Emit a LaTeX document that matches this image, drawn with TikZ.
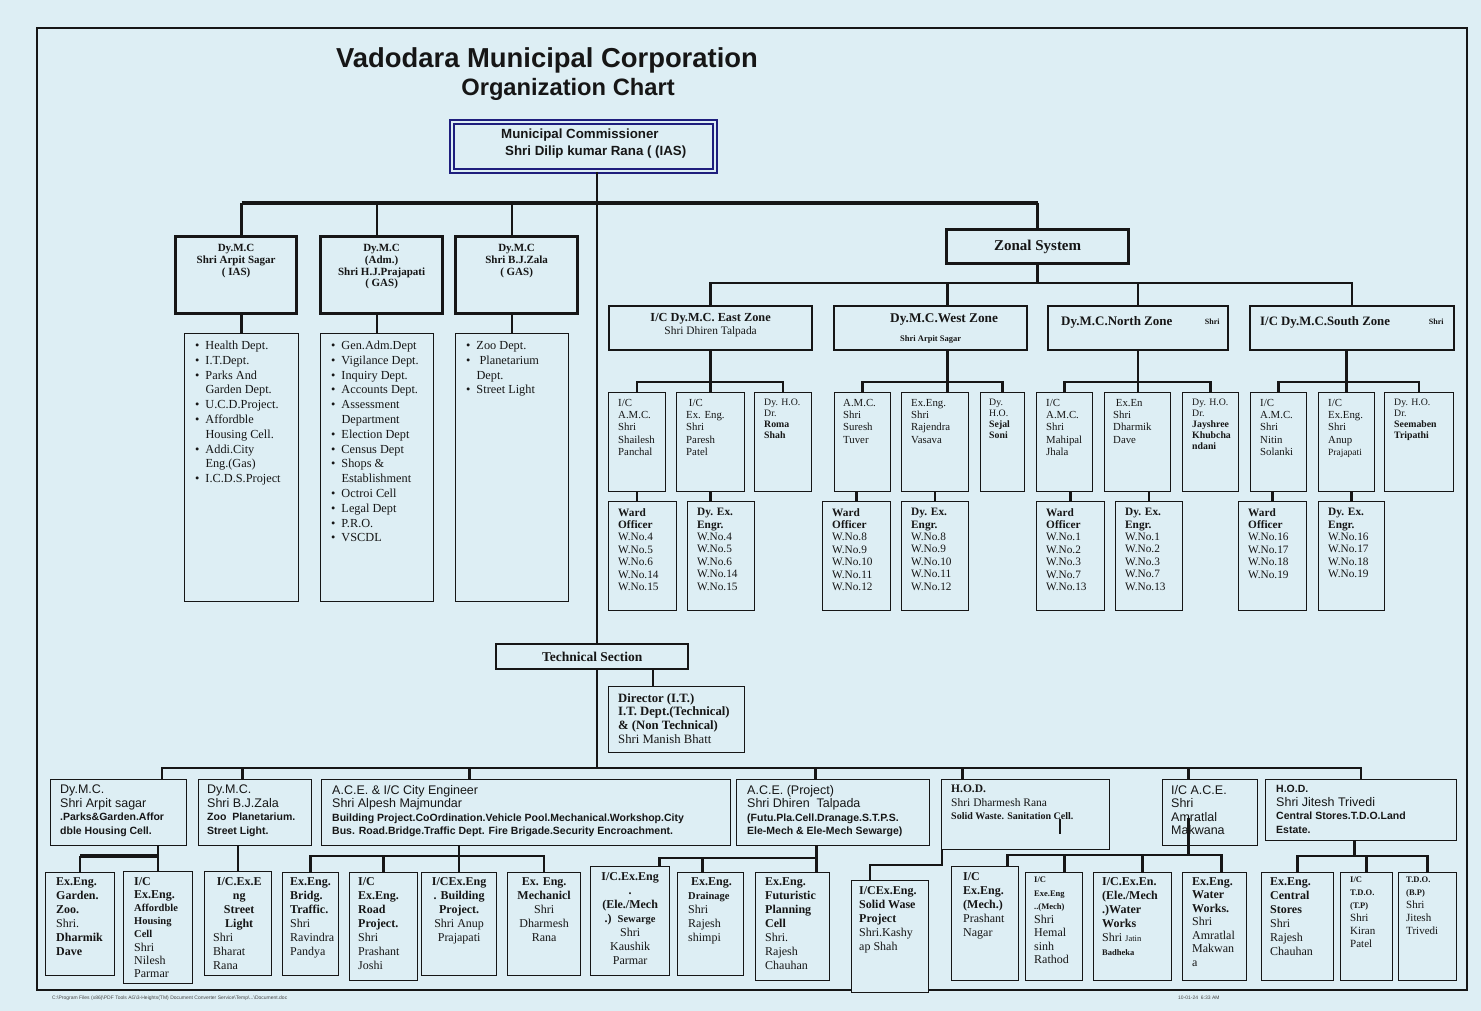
\documentclass[tikz,border=0pt]{standalone}
\usepackage{fontspec}
\setmainfont{Liberation Serif}
\newfontfamily\arialfont{Liberation Sans}
\usetikzlibrary{positioning}

\definecolor{pagebg}{RGB}{221,238,244}
\definecolor{ink}{RGB}{22,22,22}
\definecolor{navy}{RGB}{30,30,125}

\newcommand\ctrline[1]{\mbox{}\hfill#1\hfill\mbox{}}
\newcommand\smallbf{\bfseries\fontsize{10.5}{13}\selectfont}
\newcommand\tinybf{\bfseries\fontsize{8.5}{13}\selectfont}
\newcommand\detail{\bfseries\fontsize{10.5}{13.5}\selectfont}

\tikzset{
  bx/.style={draw=ink, fill=pagebg, anchor=north west, inner sep=0pt, line width=1.3pt},
  heavy/.style={bx, line width=3.2pt},
  zonebox/.style={bx, line width=2.2pt},
  listbox/.style={bx, line width=1pt},
  lbl/.style={anchor=north west, inner sep=0pt, align=left, text=ink},
  tlbl/.style={anchor=north west, inner sep=0pt, text=ink},
  ctr/.style={anchor=north, inner sep=0pt, align=center, text=ink},
  conn/.style={draw=ink, line width=2.6pt},
  subtxt/.style={font=\fontsize{10.8}{12.3}\selectfont},
  hotxt/.style={font=\fontsize{9.8}{11}\selectfont},
  wardtxt/.style={font=\fontsize{11.3}{12.4}\selectfont},
  listtxt/.style={font=\fontsize{12.3}{14.8}\selectfont},
  leaftxt/.style={font=\fontsize{12}{14}\selectfont},
  midtxt/.style={font=\arialfont\fontsize{12.5}{13.5}\selectfont},
}

\begin{document}
\begin{tikzpicture}[x=1pt, y=-1pt]
\useasboundingbox (0,0) rectangle (1481,1011);
\fill[pagebg] (0,0) rectangle (1481,1011);
\draw[ink, line width=1.2pt] (37,28) rectangle (1467,990);

% title
\node[font=\arialfont\bfseries\fontsize{27.4}{30}\selectfont, text=ink, inner sep=0pt] (title) at (547,60) {Vadodara Municipal Corporation};
\node[font=\arialfont\bfseries\fontsize{23.7}{26}\selectfont, text=ink, inner sep=0pt] (subtitle) at (568,89) {Organization Chart};

% commissioner
\node[draw=navy, double=pagebg, double distance=2pt, line width=1.8pt, fill=pagebg, anchor=north west, inner sep=0pt, minimum width=263pt, minimum height=49pt] (mc) at (451,121) {};
\node[lbl, font=\arialfont\bfseries\fontsize{13.3}{17}\selectfont, below right=8pt and 50pt of mc.north west] (mct) {Municipal Commissioner\\\hspace*{4pt}Shri Dilip kumar Rana ( (IAS)};

% deputy commissioners
\node[heavy, minimum width=121pt, minimum height=77pt] (dmca) at (174,235) {};
\node[heavy, minimum width=122pt, minimum height=77pt] (dmcb) at (319,235) {};
\node[heavy, minimum width=122pt, minimum height=77pt] (dmcc) at (454,235) {};
\node[ctr, font=\bfseries\fontsize{11}{11.8}\selectfont, below=9pt of dmca.north] (dmcat) {Dy.M.C\\Shri Arpit Sagar\\( IAS)};
\node[ctr, font=\bfseries\fontsize{11}{11.8}\selectfont, below=9pt of dmcb.north] (dmcbt) {Dy.M.C\\(Adm.)\\Shri H.J.Prajapati\\( GAS)};
\node[ctr, font=\bfseries\fontsize{11}{11.8}\selectfont, below=9pt of dmcc.north] (dmcct) {Dy.M.C\\Shri B.J.Zala\\( GAS)};

\node[listbox, minimum width=114pt, minimum height=268pt] (lista) at (184,333) {};
\node[listbox, minimum width=113pt, minimum height=268pt] (listb) at (320,333) {};
\node[listbox, minimum width=113pt, minimum height=268pt] (listc) at (455,333) {};
\node[tlbl, listtxt, below right=6pt and 11pt of lista.north west] (listat) {\begin{tabular}{@{}l@{\hspace{6pt}}l@{}}
\textbullet & Health Dept.\\
\textbullet & I.T.Dept.\\
\textbullet & Parks And\\ & Garden Dept.\\
\textbullet & U.C.D.Project.\\
\textbullet & Affordble\\ & Housing Cell.\\
\textbullet & Addi.City\\ & Eng.(Gas)\\
\textbullet & I.C.D.S.Project
\end{tabular}};
\node[tlbl, listtxt, below right=6pt and 11pt of listb.north west] (listbt) {\begin{tabular}{@{}l@{\hspace{6pt}}l@{}}
\textbullet & Gen.Adm.Dept\\
\textbullet & Vigilance Dept.\\
\textbullet & Inquiry Dept.\\
\textbullet & Accounts Dept.\\
\textbullet & Assessment\\ & Department\\
\textbullet & Election Dept\\
\textbullet & Census Dept\\
\textbullet & Shops \&\\ & Establishment\\
\textbullet & Octroi Cell\\
\textbullet & Legal Dept\\
\textbullet & P.R.O.\\
\textbullet & VSCDL
\end{tabular}};
\node[tlbl, listtxt, below right=6pt and 11pt of listc.north west] (listct) {\begin{tabular}{@{}l@{\hspace{6pt}}l@{}}
\textbullet & Zoo Dept.\\
\textbullet & \ Planetarium\\ & Dept.\\
\textbullet & Street Light
\end{tabular}};

% zonal system
\node[heavy, minimum width=182pt, minimum height=34pt] (zs) at (945,228) {};
\node[font=\bfseries\fontsize{15}{16}\selectfont, text=ink, inner sep=0pt] (zst) at (zs.center) {Zonal System};

\node[zonebox, minimum width=203pt, minimum height=44pt] (ez) at (608,305) {};
\node[zonebox, minimum width=193pt, minimum height=44pt] (wz) at (833,305) {};
\node[zonebox, minimum width=180pt, minimum height=44pt] (nz) at (1047,305) {};
\node[zonebox, minimum width=204pt, minimum height=44pt] (sz) at (1249,305) {};
\node[ctr, font=\fontsize{11.4}{13}\selectfont, below=8pt of ez.north] (ezt) {{\bfseries\fontsize{12.3}{13}\selectfont I/C Dy.M.C. East Zone}\\Shri Dhiren Talpada};
\node[font=\bfseries\fontsize{13.3}{14}\selectfont, text=ink, inner sep=0pt] (wzt) at ([shift={(13.5pt,-15pt)}]wz.north) {Dy.M.C.West Zone};
\node[font=\bfseries\fontsize{8.5}{9}\selectfont, text=ink, inner sep=0pt] (wzs) at ([yshift=-34pt]wz.north) {Shri Arpit Sagar};
\node[font=\bfseries\fontsize{13}{14}\selectfont, text=ink, inner sep=0pt, anchor=west] (nzt) at ([shift={(14pt,-17pt)}]nz.north west) {Dy.M.C.North Zone};
\node[font=\bfseries\fontsize{8}{9}\selectfont, text=ink, inner sep=0pt] (nzs) at ([shift={(-17pt,-17pt)}]nz.north east) {Shri};
\node[font=\bfseries\fontsize{12.8}{14}\selectfont, text=ink, inner sep=0pt, anchor=west] (szt) at ([shift={(11pt,-17pt)}]sz.north west) {I/C Dy.M.C.South Zone};
\node[font=\bfseries\fontsize{8}{9}\selectfont, text=ink, inner sep=0pt] (szs) at ([shift={(-19pt,-17pt)}]sz.north east) {Shri};

% east zone
\node[bx, minimum width=57pt, minimum height=99pt] (e1) at (608,392) {};
\node[bx, minimum width=68pt, minimum height=99pt] (e2) at (676,392) {};
\node[bx, minimum width=57pt, minimum height=99pt] (e3) at (754,392) {};
\node[bx, minimum width=68pt, minimum height=109pt] (e1w) at (608,501) {};
\node[bx, minimum width=67pt, minimum height=109pt] (e2w) at (687,501) {};
\node[lbl, subtxt, below right=7pt and 10pt of e1.north west] (e1t) {I/C\\A.M.C.\\Shri\\Shailesh\\Panchal};
\node[lbl, subtxt, below right=7pt and 10pt of e2.north west] (e2t) {\ I/C\\Ex. Eng.\\Shri\\Paresh\\Patel};
\node[lbl, hotxt, below right=7pt and 10pt of e3.north west] (e3t) {Dy. H.O.\\Dr.\\\textbf{Roma}\\\textbf{Shah}};
\node[lbl, wardtxt, below right=7pt and 10pt of e1w.north west] (e1wt) {\textbf{Ward}\\\textbf{Officer}\\W.No.4\\W.No.5\\W.No.6\\W.No.14\\W.No.15};
\node[lbl, wardtxt, below right=7pt and 10pt of e2w.north west] (e2wt) {\textbf{Dy. Ex.}\\\textbf{Engr.}\\W.No.4\\W.No.5\\W.No.6\\W.No.14\\W.No.15};

% west zone
\node[bx, minimum width=56pt, minimum height=99pt] (w1) at (834,392) {};
\node[bx, minimum width=67pt, minimum height=99pt] (w2) at (901,392) {};
\node[bx, minimum width=44pt, minimum height=99pt] (w3) at (980,392) {};
\node[bx, minimum width=68pt, minimum height=109pt] (w1w) at (822,501) {};
\node[bx, minimum width=67pt, minimum height=109pt] (w2w) at (901,501) {};
\node[lbl, subtxt, below right=7pt and 9pt of w1.north west] (w1t) {A.M.C.\\Shri\\Suresh\\Tuver};
\node[lbl, subtxt, below right=7pt and 10pt of w2.north west] (w2t) {Ex.Eng.\\Shri\\Rajendra\\Vasava};
\node[lbl, hotxt, below right=7pt and 9pt of w3.north west] (w3t) {Dy.\\H.O.\\\textbf{Sejal}\\\textbf{Soni}};
\node[lbl, wardtxt, below right=7pt and 10pt of w1w.north west] (w1wt) {\textbf{Ward}\\\textbf{Officer}\\W.No.8\\W.No.9\\W.No.10\\W.No.11\\W.No.12};
\node[lbl, wardtxt, below right=7pt and 10pt of w2w.north west] (w2wt) {\textbf{Dy. Ex.}\\\textbf{Engr.}\\W.No.8\\W.No.9\\W.No.10\\W.No.11\\W.No.12};

% north zone
\node[bx, minimum width=56pt, minimum height=99pt] (n1) at (1036,392) {};
\node[bx, minimum width=66pt, minimum height=99pt] (n2) at (1104,392) {};
\node[bx, minimum width=56pt, minimum height=99pt] (n3) at (1182,392) {};
\node[bx, minimum width=68pt, minimum height=109pt] (n1w) at (1036,501) {};
\node[bx, minimum width=67pt, minimum height=109pt] (n2w) at (1115,501) {};
\node[lbl, subtxt, below right=7pt and 10pt of n1.north west] (n1t) {I/C\\A.M.C.\\Shri\\Mahipal\\Jhala};
\node[lbl, subtxt, below right=7pt and 9pt of n2.north west] (n2t) {\ Ex.En\\Shri\\Dharmik\\Dave};
\node[lbl, hotxt, below right=7pt and 10pt of n3.north west] (n3t) {Dy. H.O.\\Dr.\\\textbf{Jayshree}\\\textbf{Khubcha}\\\textbf{ndani}};
\node[lbl, wardtxt, below right=7pt and 10pt of n1w.north west] (n1wt) {\textbf{Ward}\\\textbf{Officer}\\W.No.1\\W.No.2\\W.No.3\\W.No.7\\W.No.13};
\node[lbl, wardtxt, below right=7pt and 10pt of n2w.north west] (n2wt) {\textbf{Dy. Ex.}\\\textbf{Engr.}\\W.No.1\\W.No.2\\W.No.3\\W.No.7\\W.No.13};

% south zone
\node[bx, minimum width=56pt, minimum height=99pt] (s1) at (1250,392) {};
\node[bx, minimum width=56pt, minimum height=99pt] (s2) at (1318,392) {};
\node[bx, minimum width=69pt, minimum height=99pt] (s3) at (1384,392) {};
\node[bx, minimum width=68pt, minimum height=109pt] (s1w) at (1238,501) {};
\node[bx, minimum width=66pt, minimum height=109pt] (s2w) at (1318,501) {};
\node[lbl, subtxt, below right=7pt and 10pt of s1.north west] (s1t) {I/C\\A.M.C.\\Shri\\Nitin\\Solanki};
\node[lbl, subtxt, below right=7pt and 10pt of s2.north west] (s2t) {I/C\\Ex.Eng.\\Shri\\Anup\\{\fontsize{9.5}{12.3}\selectfont Prajapati}};
\node[lbl, hotxt, below right=7pt and 10pt of s3.north west] (s3t) {Dy. H.O.\\Dr.\\\textbf{Seemaben}\\\textbf{Tripathi}};
\node[lbl, wardtxt, below right=7pt and 10pt of s1w.north west] (s1wt) {\textbf{Ward}\\\textbf{Officer}\\W.No.16\\W.No.17\\W.No.18\\W.No.19};
\node[lbl, wardtxt, below right=7pt and 10pt of s2w.north west] (s2wt) {\textbf{Dy. Ex.}\\\textbf{Engr.}\\W.No.16\\W.No.17\\W.No.18\\W.No.19};

% technical section
\node[bx, line width=2.4pt, minimum width=192pt, minimum height=25pt] (ts) at (495,643) {};
\node[font=\bfseries\fontsize{13.5}{14}\selectfont, text=ink, inner sep=0pt] (tst) at (ts.center) {Technical Section};
\node[bx, line width=1pt, minimum width=136pt, minimum height=66pt] (dir) at (608,686) {};
\node[lbl, font=\fontsize{12.7}{13.7}\selectfont, below right=7pt and 10pt of dir.north west] (dirt) {\textbf{Director (I.T.)}\\\textbf{I.T. Dept.(Technical)}\\\textbf{\& (Non Technical)}\\Shri Manish Bhatt};

% second row
\node[bx, minimum width=136pt, minimum height=66pt] (m1) at (50,779) {};
\node[bx, minimum width=113pt, minimum height=66pt] (m2) at (198,779) {};
\node[bx, minimum width=409pt, minimum height=66pt] (m3) at (321,779) {};
\node[bx, minimum width=193pt, minimum height=66pt] (m4) at (736,779) {};
\node[bx, minimum width=168pt, minimum height=70pt] (m5) at (941,779) {};
\node[bx, minimum width=95pt, minimum height=66pt] (m6) at (1162,779) {};
\node[bx, minimum width=191pt, minimum height=61pt] (m7) at (1265,779) {};
\node[lbl, midtxt, below right=6pt and 10pt of m1.north west] (m1t) {Dy.M.C.\\Shri Arpit sagar\\{\detail .Parks\&Garden.Affor}\\{\detail dble Housing Cell.}};
\node[lbl, midtxt, below right=6pt and 9pt of m2.north west] (m2t) {Dy.M.C.\\Shri B.J.Zala\\{\detail Zoo\ \ Planetarium.}\\{\detail Street Light.}};
\node[lbl, midtxt, below right=6pt and 11pt of m3.north west] (m3t) {A.C.E. \& I/C City Engineer\\Shri Alpesh Majmundar\\{\detail Building Project.CoOrdination.Vehicle Pool.Mechanical.Workshop.City}\\{\detail Bus. Road.Bridge.Traffic Dept. Fire Brigade.Security Encroachment.}};
\node[lbl, midtxt, below right=6pt and 11pt of m4.north west] (m4t) {A.C.E. (Project)\\Shri Dhiren\ \ Talpada\\{\detail (Futu.Pla.Cell.Dranage.S.T.P.S.}\\{\detail Ele-Mech \& Ele-Mech Sewarge)}};
\node[lbl, font=\fontsize{11.5}{13.5}\selectfont, below right=6pt and 10pt of m5.north west] (m5t) {\textbf{H.O.D.}\\Shri Dharmesh Rana\\{\bfseries\fontsize{10}{13.5}\selectfont Solid Waste. Sanitation Cell.}};
\node[lbl, midtxt, below right=6pt and 9pt of m6.north west] (m6t) {I/C A.C.E.\\Shri\\Amratlal\\Makwana};
\node[lbl, midtxt, below right=6pt and 11pt of m7.north west] (m7t) {{\detail H.O.D.}\\Shri Jitesh Trivedi\\{\detail Central Stores.T.D.O.Land}\\{\detail Estate.}};

% bottom row
\node[bx, minimum width=69pt, minimum height=103pt] (l1) at (45,872) {};
\node[bx, minimum width=69pt, minimum height=112pt] (l2) at (123,871) {};
\node[bx, minimum width=67pt, minimum height=104pt] (l3) at (204,871) {};
\node[bx, minimum width=56pt, minimum height=103pt] (l4) at (282,872) {};
\node[bx, minimum width=68pt, minimum height=108pt] (l5) at (349,872) {};
\node[bx, minimum width=75pt, minimum height=103pt] (l6) at (421,872) {};
\node[bx, minimum width=73pt, minimum height=103pt] (l7) at (507,872) {};
\node[bx, minimum width=79pt, minimum height=109pt] (r1) at (590,866) {};
\node[bx, minimum width=66pt, minimum height=103pt] (r2) at (677,872) {};
\node[bx, minimum width=74pt, minimum height=108pt] (r3) at (755,872) {};
\node[bx, minimum width=77pt, minimum height=112pt] (r4) at (851,880) {};
\node[bx, minimum width=67pt, minimum height=114pt] (r5) at (951,866) {};
\node[bx, minimum width=57pt, minimum height=108pt] (r6) at (1025,872) {};
\node[bx, minimum width=78pt, minimum height=108pt] (r7) at (1093,872) {};
\node[bx, minimum width=64pt, minimum height=108pt] (r8) at (1182,872) {};
\node[bx, minimum width=72pt, minimum height=108pt] (r9) at (1261,872) {};
\node[bx, minimum width=52pt, minimum height=108pt] (r10) at (1340,872) {};
\node[bx, minimum width=58pt, minimum height=108pt] (r11) at (1398,872) {};

\node[lbl, leaftxt, below right=5pt and 11pt of l1.north west] (l1t) {\textbf{Ex.Eng.}\\\textbf{Garden.}\\\textbf{Zoo.}\\Shri.\\\textbf{Dharmik}\\\textbf{Dave}};
\node[lbl, font=\fontsize{12}{13.2}\selectfont, below right=6pt and 11pt of l2.north west] (l2t) {\textbf{I/C}\\\textbf{Ex.Eng.}\\{\smallbf Affordble}\\{\smallbf Housing}\\{\smallbf Cell}\\Shri\\Nilesh\\Parmar};
\node[lbl, leaftxt, text width=52pt, below right=6pt and 9pt of l3.north west] (l3t) {\ctrline{\textbf{I/C.Ex.E}}\\\ctrline{\textbf{ng}}\\\ctrline{\textbf{Street}}\\\ctrline{\textbf{Light}}\\Shri\\Bharat\\Rana};
\node[lbl, leaftxt, below right=5pt and 8pt of l4.north west] (l4t) {\textbf{Ex.Eng.}\\\textbf{Bridg.}\\\textbf{Traffic.}\\Shri\\Ravindra\\Pandya};
\node[lbl, leaftxt, below right=5pt and 9pt of l5.north west] (l5t) {\textbf{I/C}\\\textbf{Ex.Eng.}\\\textbf{Road}\\\textbf{Project.}\\Shri\\Prashant\\Joshi};
\node[ctr, leaftxt, below=5pt of l6.north] (l6t) {\textbf{I/CEx.Eng}\\\textbf{. Building}\\\textbf{Project.}\\Shri Anup\\Prajapati};
\node[ctr, leaftxt, below=5pt of l7.north] (l7t) {\textbf{Ex. Eng.}\\\textbf{Mechanicl}\\Shri\\Dharmesh\\Rana};
\node[ctr, leaftxt, below=6pt of r1.north] (r1t) {\textbf{I/C.Ex.Eng}\\\textbf{.}\\\textbf{(Ele./Mech}\\\textbf{.)\ \ {\smallbf Sewarge}}\\Shri\\Kaushik\\Parmar};
\node[lbl, leaftxt, below right=5pt and 11pt of r2.north west] (r2t) {\textbf{\ Ex.Eng.}\\{\smallbf Drainage}\\Shri\\Rajesh\\shimpi};
\node[lbl, leaftxt, below right=5pt and 10pt of r3.north west] (r3t) {\textbf{Ex.Eng.}\\\textbf{Futuristic}\\\textbf{Planning}\\\textbf{Cell}\\Shri.\\Rajesh\\Chauhan};
\node[lbl, leaftxt, below right=6pt and 8pt of r4.north west] (r4t) {\textbf{I/CEx.Eng.}\\\textbf{Solid Wase}\\\textbf{Project}\\Shri.Kashy\\ap Shah};
\node[lbl, leaftxt, below right=6pt and 12pt of r5.north west] (r5t) {\textbf{I/C}\\\textbf{Ex.Eng.}\\\textbf{(Mech.)}\\Prashant\\Nagar};
\node[lbl, font=\fontsize{12}{13.5}\selectfont, below right=5pt and 9pt of r6.north west] (r6t) {{\tinybf I/C}\\{\tinybf Exe.Eng}\\{\tinybf ..(Mech)}\\Shri\\Hemal\\sinh\\Rathod};
\node[lbl, leaftxt, below right=5pt and 9pt of r7.north west] (r7t) {\textbf{I/C.Ex.En.}\\\textbf{(Ele./Mech}\\\textbf{.)Water}\\\textbf{Works}\\Shri {\fontsize{8.5}{14}\selectfont Jatin}\\{\tinybf Badheka}};
\node[lbl, font=\fontsize{12}{13.5}\selectfont, below right=5pt and 10pt of r8.north west] (r8t) {\textbf{Ex.Eng.}\\\textbf{Water}\\\textbf{Works.}\\Shri\\Amratlal\\Makwan\\a};
\node[lbl, leaftxt, below right=5pt and 9pt of r9.north west] (r9t) {\textbf{Ex.Eng.}\\\textbf{Central}\\\textbf{Stores}\\Shri\\Rajesh\\Chauhan};
\node[lbl, font=\fontsize{11}{13}\selectfont, below right=5pt and 10pt of r10.north west] (r10t) {{\tinybf I/C}\\{\tinybf T.D.O.}\\{\tinybf (T.P)}\\Shri\\Kiran\\Patel};
\node[lbl, font=\fontsize{11}{13}\selectfont, below right=5pt and 8pt of r11.north west] (r11t) {{\tinybf T.D.O.}\\{\tinybf (B.P)}\\Shri\\Jitesh\\Trivedi};

% connectors
\coordinate (spine) at (597,0);
\coordinate (tbus) at (0,203);
\coordinate (zbus) at (0,283);
\coordinate (sbus) at (0,382);
\coordinate (dirx) at (653,0);
\coordinate (bbus) at (0,768);
\coordinate (mbus) at (0,855);
\coordinate (lbus) at (0,856);
\coordinate (rbus) at (0,858);
\coordinate (sw) at (870,865);

\draw[conn] (mc.south -| spine) -- (ts.north -| spine);
\draw[conn] (ts.south -| spine) -- (spine |- bbus);
\draw[conn] (ts.south -| dirx) -- (dir.north -| dirx);

\draw[conn, line width=3.4pt] (lista.north |- tbus) -- (zs.north |- tbus);
\draw[conn] (lista.north |- tbus) -- (lista.north |- dmca.north);
\draw[conn] (listb.north |- tbus) -- (listb.north |- dmcb.north);
\draw[conn] (listc.north |- tbus) -- (listc.north |- dmcc.north);
\draw[conn] (zs.north |- tbus) -- (zs.north);
\draw[conn] (lista.north |- dmca.south) -- (lista.north);
\draw[conn] (listb.north |- dmcb.south) -- (listb.north);
\draw[conn] (listc.north |- dmcc.south) -- (listc.north);

\draw[conn] (zs.south) -- (zs.south |- zbus);
\draw[conn] (ez.north) |- (sz.north |- zbus) -- (sz.north);
\draw[conn] ([xshift=17pt]wz.north) -- ([xshift=17pt]wz.north |- zbus);
\draw[conn] (nz.north) -- (nz.north |- zbus);

\draw[conn] (ez.south) -- (ez.south |- e2.north);
\draw[conn] (e1.north) |- (e3.north |- sbus) -- (e3.north);
\draw[conn] (e1.south) -- (e1.south |- e1w.north);
\draw[conn] (e2.south) -- (e2.south |- e2w.north);
\draw[conn] ([xshift=17pt]wz.south) -- ([xshift=17pt]wz.south |- w2.north);
\draw[conn] (w1.north) |- (w3.north |- sbus) -- (w3.north);
\draw[conn] (w1w.north |- w1.south) -- (w1w.north);
\draw[conn] (w2.south) -- (w2.south |- w2w.north);
\draw[conn] (nz.south) -- (nz.south |- n2.north);
\draw[conn] (n1.north) |- (n3.north |- sbus) -- (n3.north);
\draw[conn] (n1w.north |- n1.south) -- (n1w.north);
\draw[conn] (n2w.north |- n2.south) -- (n2w.north);
\draw[conn] (s2.north |- sz.south) -- (s2.north);
\draw[conn] (s1.north) |- (s3.north |- sbus) -- (s3.north);
\draw[conn] (s1w.north |- s1.south) -- (s1w.north);
\draw[conn] (s2w.north |- s2.south) -- (s2w.north);

\draw[conn] ([xshift=43.5pt]m1.north) |- (m7.north |- bbus) -- (m7.north);
\draw[conn] ([xshift=-12.5pt]m2.north) -- ([xshift=-12.5pt]m2.north |- bbus);
\draw[conn] ([xshift=-56.5pt]m3.north) -- ([xshift=-56.5pt]m3.north |- bbus);
\draw[conn] ([xshift=-17.5pt]m4.north) -- ([xshift=-17.5pt]m4.north |- bbus);
\draw[conn] ([xshift=-63pt]m5.north) -- ([xshift=-63pt]m5.north |- bbus);
\draw[conn] ([xshift=-21.5pt]m6.north) -- ([xshift=-21.5pt]m6.north |- bbus);

\draw[conn] (l2.north |- m1.south) -- (l2.north);
\draw[conn, line width=4.5pt] (l1.north |- lbus) -- (l2.north |- lbus);
\draw[conn] (l1.north |- lbus) -- (l1.north);
\draw[conn] (l3.north |- m2.south) -- (l3.north);
\draw[conn] (l4.north) |- (l7.north |- lbus) -- (l7.north);
\draw[conn] (l5.north) -- (l5.north |- lbus);
\draw[conn] (l6.north |- m3.south) -- (l6.north);

\draw[conn] ([xshift=29.5pt]r1.north) |- ([xshift=24pt]r3.north |- rbus) -- ([xshift=24pt]r3.north);
\draw[conn] ([xshift=-8pt]r2.north) -- ([xshift=-8pt]r2.north |- rbus);
\draw[conn] ([xshift=24pt]r3.north |- m4.south) -- ([xshift=24pt]r3.north |- rbus);
\draw[conn] ([xshift=1pt]m5.south west) |- (sw) -- (sw |- r4.north);
\draw[conn, line width=2pt] ([shift={(34pt,-4pt)}]m5.center) -- ++(0pt,-15pt);
\draw[conn] ([xshift=22.5pt]r5.north) |- ([xshift=7pt]r8.north |- mbus) -- ([xshift=7pt]r8.north);
\draw[conn] ([xshift=10.5pt]r6.north) -- ([xshift=10.5pt]r6.north |- mbus);
\draw[conn] ([xshift=10pt]r7.north) -- ([xshift=10pt]r7.north |- mbus);
\draw[conn] ([shift={(-21.5pt,28pt)}]m6.south) -- ([xshift=-21.5pt]m6.south |- mbus);
\draw[conn] (r9.north) |- (r11.north |- lbus) -- (r11.north);
\draw[conn] (r10.north) -- (r10.north |- lbus);
\draw[conn] ([xshift=-6.5pt]m7.south) -- ([xshift=-6.5pt]m7.south |- lbus);

% footer
\node[font=\arialfont\fontsize{5}{6}\selectfont, text=ink!80, inner sep=0pt, anchor=west] (foot) at (52,998) {C:\textbackslash Program Files (x86)\textbackslash PDF Tools AG\textbackslash 3-Heights(TM) Document Converter Service\textbackslash Temp\textbackslash ...\textbackslash Document.doc};
\node[font=\arialfont\fontsize{5}{6}\selectfont, text=ink!80, inner sep=0pt, anchor=west] (stamp) at (1178,998) {10-01-24\ \ 6:33 AM};
\end{tikzpicture}
\end{document}
